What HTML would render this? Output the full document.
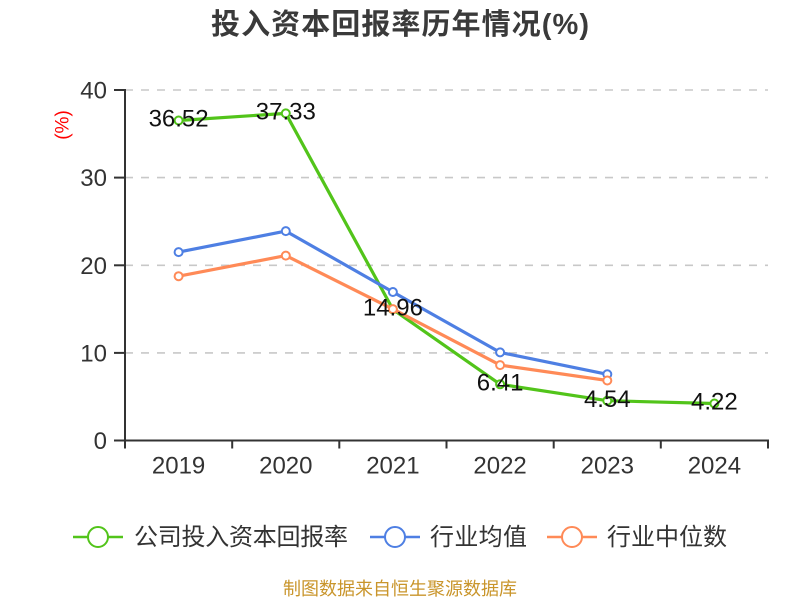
<!DOCTYPE html>
<html>
<head>
<meta charset="utf-8">
<style>
  html, body { margin: 0; padding: 0; background: #fff; }
  svg { display: block; }
  .t { font-family: "Liberation Sans", "Noto Sans CJK SC", sans-serif; }
</style>
</head>
<body>
<svg width="800" height="600" viewBox="0 0 800 600" xmlns="http://www.w3.org/2000/svg">
  <rect width="800" height="600" fill="#fff"/>

  <!-- Title -->
  <text class="t" x="400" y="34" text-anchor="middle" font-size="29" font-weight="bold" fill="#3a3a3a" textLength="378" lengthAdjust="spacing">投入资本回报率历年情况(%)</text>

  <!-- y unit label -->
  <text class="t" x="0" y="0" transform="translate(63,125) rotate(-90)" text-anchor="middle" dominant-baseline="central" font-size="19" fill="#ff0000">(%)</text>

  <!-- gridlines -->
  <g stroke="#c8c8c8" stroke-width="1.6" stroke-dasharray="8,8" fill="none">
    <line x1="125" y1="90" x2="768" y2="90"/>
    <line x1="125" y1="177.6" x2="768" y2="177.6"/>
    <line x1="125" y1="265.3" x2="768" y2="265.3"/>
    <line x1="125" y1="352.9" x2="768" y2="352.9"/>
  </g>

  <!-- axes -->
  <g stroke="#333" stroke-width="2" fill="none">
    <line x1="125" y1="89" x2="125" y2="441.5"/>
    <line x1="124" y1="440.5" x2="769" y2="440.5"/>
    <line x1="114" y1="90" x2="125" y2="90"/>
    <line x1="114" y1="177.6" x2="125" y2="177.6"/>
    <line x1="114" y1="265.3" x2="125" y2="265.3"/>
    <line x1="114" y1="352.9" x2="125" y2="352.9"/>
    <line x1="114" y1="440.5" x2="125" y2="440.5"/>
    <line x1="125" y1="440.5" x2="125" y2="448.5"/>
    <line x1="232.2" y1="440.5" x2="232.2" y2="448.5"/>
    <line x1="339.3" y1="440.5" x2="339.3" y2="448.5"/>
    <line x1="446.5" y1="440.5" x2="446.5" y2="448.5"/>
    <line x1="553.7" y1="440.5" x2="553.7" y2="448.5"/>
    <line x1="660.8" y1="440.5" x2="660.8" y2="448.5"/>
    <line x1="768" y1="440.5" x2="768" y2="448.5"/>
  </g>

  <!-- y tick labels -->
  <g class="t" font-size="24" fill="#333" text-anchor="end">
    <text x="107" y="98.6">40</text>
    <text x="107" y="186.2">30</text>
    <text x="107" y="273.9">20</text>
    <text x="107" y="361.5">10</text>
    <text x="107" y="449.1">0</text>
  </g>

  <!-- x tick labels -->
  <g class="t" font-size="24" fill="#333" text-anchor="middle">
    <text x="178.6" y="473.6">2019</text>
    <text x="285.8" y="473.6">2020</text>
    <text x="392.9" y="473.6">2021</text>
    <text x="500.1" y="473.6">2022</text>
    <text x="607.3" y="473.6">2023</text>
    <text x="714.4" y="473.6">2024</text>
  </g>

  <!-- series: company -->
  <polyline fill="none" stroke="#52c41a" stroke-width="3.2" stroke-linejoin="round"
    points="178.6,120.5 285.8,113.4 392.9,309.4 500.1,384.3 607.3,400.7 714.4,403.5"/>
  <g fill="#fff" stroke="#52c41a" stroke-width="2">
    <circle cx="178.6" cy="120.5" r="4"/>
    <circle cx="285.8" cy="113.4" r="4"/>
    <circle cx="392.9" cy="309.4" r="4"/>
    <circle cx="500.1" cy="384.3" r="4"/>
    <circle cx="607.3" cy="400.7" r="4"/>
    <circle cx="714.4" cy="403.5" r="4"/>
  </g>

  <!-- series: industry average -->
  <polyline fill="none" stroke="#4e7fe3" stroke-width="3.2" stroke-linejoin="round"
    points="178.6,252.1 285.8,231.1 392.9,292 500.1,352.4 607.3,374.3"/>
  <g fill="#fff" stroke="#4e7fe3" stroke-width="2">
    <circle cx="178.6" cy="252.1" r="4"/>
    <circle cx="285.8" cy="231.1" r="4"/>
    <circle cx="392.9" cy="292" r="4"/>
    <circle cx="500.1" cy="352.4" r="4"/>
    <circle cx="607.3" cy="374.3" r="4"/>
  </g>

  <!-- series: industry median -->
  <polyline fill="none" stroke="#ff8a57" stroke-width="3.2" stroke-linejoin="round"
    points="178.6,276.2 285.8,255.6 392.9,309.1 500.1,365.1 607.3,380.5"/>
  <g fill="#fff" stroke="#ff8a57" stroke-width="2">
    <circle cx="178.6" cy="276.2" r="4"/>
    <circle cx="285.8" cy="255.6" r="4"/>
    <circle cx="392.9" cy="309.1" r="4"/>
    <circle cx="500.1" cy="365.1" r="4"/>
    <circle cx="607.3" cy="380.5" r="4"/>
  </g>

  <!-- data labels -->
  <g class="t" font-size="24" fill="#111" text-anchor="middle">
    <text x="178.6" y="126.6">36.52</text>
    <text x="285.8" y="119.5">37.33</text>
    <text x="392.9" y="315.5">14.96</text>
    <text x="500.1" y="390.4">6.41</text>
    <text x="607.3" y="406.8">4.54</text>
    <text x="714.4" y="409.6">4.22</text>
  </g>

  <!-- legend -->
  <g fill="none" stroke-width="2.5">
    <line x1="73" y1="537" x2="123" y2="537" stroke="#52c41a"/>
    <circle cx="98" cy="537" r="10" fill="#fff" stroke="#52c41a" stroke-width="2"/>
    <line x1="370" y1="537" x2="420" y2="537" stroke="#4e7fe3"/>
    <circle cx="395" cy="537" r="10" fill="#fff" stroke="#4e7fe3" stroke-width="2"/>
    <line x1="547" y1="537" x2="597" y2="537" stroke="#ff8a57"/>
    <circle cx="572" cy="537" r="10" fill="#fff" stroke="#ff8a57" stroke-width="2"/>
  </g>
  <g class="t" font-size="24" fill="#333">
    <text x="134" y="545" textLength="214" lengthAdjust="spacing">公司投入资本回报率</text>
    <text x="430" y="545" textLength="97" lengthAdjust="spacing">行业均值</text>
    <text x="607" y="545" textLength="120" lengthAdjust="spacing">行业中位数</text>
  </g>

  <!-- footer -->
  <text class="t" x="400" y="595" text-anchor="middle" font-size="18" fill="#c9952b" textLength="234" lengthAdjust="spacing">制图数据来自恒生聚源数据库</text>
</svg>
</body>
</html>
